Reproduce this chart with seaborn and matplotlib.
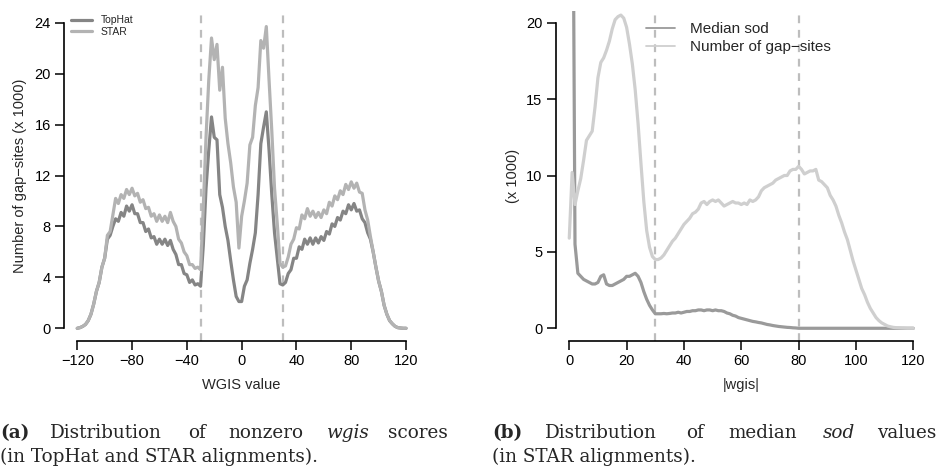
import numpy as np
import pandas as pd
import matplotlib
matplotlib.use("Agg")
import matplotlib.pyplot as plt
import seaborn as sns

# ---------------- data: panel (a) ----------------
wgis_a = list(range(-120, 121, 2))
tophat = [0.0, 0.05, 0.15, 0.3, 0.6, 1.1, 1.9, 2.9, 3.6, 4.8, 5.5, 7.0, 7.3,
          8.0, 8.6, 8.4, 9.1, 8.8, 9.6, 9.2, 9.7, 9.0, 9.0, 8.3, 8.3, 7.6, 7.8,
          7.1, 7.2, 6.6, 7.0, 6.6, 7.0, 6.5, 6.9, 6.2, 5.8, 5.0, 5.0, 4.3, 4.2,
          3.6, 3.8, 3.4, 3.5, 3.3, 6.5, 11.0, 14.0, 16.6, 15.0, 14.8, 10.5, 9.5,
          8.0, 6.9, 5.3, 3.8, 2.5, 2.1, 2.1, 3.3, 3.8, 5.1, 6.2, 7.5, 10.5, 14.5,
          15.8, 17.0, 14.0, 10.5, 7.5, 5.5, 3.5, 3.4, 3.6, 4.3, 4.6, 5.5, 5.5,
          6.4, 6.2, 7.0, 6.6, 7.1, 6.6, 7.1, 6.7, 7.2, 6.9, 7.6, 7.4, 8.2, 8.0,
          8.7, 8.5, 9.2, 9.0, 9.7, 9.3, 9.8, 9.2, 9.3, 8.6, 8.3, 7.5, 7.0, 6.0,
          4.8, 3.7, 2.9, 1.8, 1.1, 0.6, 0.35, 0.15, 0.05, 0.02, 0.0, 0.0]
star = [0.0, 0.05, 0.15, 0.3, 0.6, 1.1, 1.9, 2.9, 3.6, 4.8, 5.5, 7.3, 7.6,
        8.9, 10.2, 9.8, 10.5, 10.2, 10.9, 10.5, 11.0, 10.4, 10.6, 9.9, 10.1,
        9.4, 9.5, 8.8, 9.0, 8.4, 8.9, 8.4, 8.8, 8.3, 9.1, 8.4, 8.0, 7.0, 6.7,
        6.0, 5.7, 5.0, 5.0, 4.7, 4.8, 4.6, 9.5, 15.0, 19.5, 22.8, 21.1, 22.3,
        18.7, 20.5, 16.5, 14.5, 13.0, 11.1, 9.9, 6.3, 8.8, 10.0, 11.4, 14.4,
        15.0, 17.5, 18.9, 22.6, 22.0, 23.7, 19.5, 15.5, 11.0, 8.2, 5.1, 4.8,
        4.9, 5.6, 6.6, 7.0, 7.9, 7.8, 8.9, 8.6, 9.4, 8.8, 9.2, 8.7, 9.1, 8.7,
        9.3, 9.0, 9.9, 9.6, 10.4, 10.1, 10.8, 10.5, 11.3, 10.9, 11.5, 11.0,
        11.4, 10.7, 10.6, 9.3, 8.5, 7.2, 6.0, 4.8, 3.7, 2.9, 1.8, 1.1, 0.6,
        0.35, 0.15, 0.05, 0.02, 0.0, 0.0]

# ---------------- data: panel (b) ----------------
wgis_b = list(range(0, 121))
median_sod = [60.0, 40.0, 5.5, 3.6, 3.4, 3.2, 3.1, 3.0, 2.9, 2.9, 3.0, 3.4,
              3.5, 2.9, 2.8, 2.8, 2.9, 3.0, 3.1, 3.2, 3.4, 3.4, 3.5, 3.6, 3.4,
              3.0, 2.4, 1.9, 1.5, 1.2, 0.95, 0.95, 0.95, 0.97, 0.95, 0.97, 1.0,
              1.0, 1.05, 1.0, 1.05, 1.1, 1.1, 1.15, 1.15, 1.2, 1.2, 1.15, 1.2,
              1.2, 1.15, 1.2, 1.15, 1.15, 1.1, 1.0, 0.95, 0.85, 0.8, 0.7, 0.65,
              0.6, 0.55, 0.5, 0.45, 0.42, 0.38, 0.35, 0.3, 0.25, 0.22, 0.18,
              0.15, 0.12, 0.1, 0.08, 0.06, 0.05, 0.03, 0.02,
              0, 0, 0, 0, 0, 0, 0, 0, 0, 0, 0, 0, 0, 0, 0, 0, 0, 0, 0, 0, 0,
              0, 0, 0, 0, 0, 0, 0, 0, 0, 0, 0, 0, 0, 0, 0, 0, 0, 0, 0, 0]
gap_sites = [5.9, 10.2, 8.1, 9.0, 9.8, 11.0, 12.3, 12.6, 12.9, 14.5, 16.4,
             17.4, 17.7, 18.2, 18.8, 19.6, 20.2, 20.4, 20.5, 20.3, 19.7, 18.6,
             17.3, 15.6, 13.4, 10.8, 8.3, 6.4, 5.3, 4.7, 4.5, 4.5, 4.6, 4.8,
             5.1, 5.4, 5.7, 5.9, 6.2, 6.5, 6.8, 7.0, 7.2, 7.5, 7.6, 7.8, 8.2,
             8.3, 8.1, 8.3, 8.4, 8.3, 8.4, 8.2, 8.0, 8.1, 8.2, 8.3, 8.2, 8.2,
             8.1, 8.2, 8.1, 8.4, 8.3, 8.4, 8.6, 9.0, 9.2, 9.3, 9.4, 9.5, 9.7,
             9.8, 9.9, 10.0, 10.0, 10.3, 10.4, 10.4, 10.6, 10.4, 10.1, 10.2,
             10.3, 10.3, 10.4, 9.7, 9.6, 9.4, 9.2, 8.7, 8.4, 8.0, 7.4, 6.9,
             6.3, 5.8, 5.1, 4.4, 3.8, 3.2, 2.6, 2.2, 1.7, 1.3, 1.0, 0.7, 0.5,
             0.35, 0.25, 0.15, 0.1, 0.06, 0.04, 0.03, 0.02, 0.01, 0.0, 0.0, 0.0]

cutoffs_a = [-30, 30]
cutoffs_b = [30, 80]
xticks_a = [-120, -80, -40, 0, 40, 80, 120]
yticks_a = [0, 4, 8, 12, 16, 20, 24]
xticks_b = [0, 20, 40, 60, 80, 100, 120]
yticks_b = [0, 5, 10, 15, 20]

df_a = pd.DataFrame({"wgis": wgis_a, "TopHat": tophat, "STAR": star})
df_b = pd.DataFrame({"wgis": wgis_b, "Median sod": median_sod,
                     "Number of gap\u2212sites": gap_sites})

sns.set_theme(style="white")
plt.rcParams["font.family"] = ["Liberation Sans", "DejaVu Sans"]
plt.rcParams["axes.unicode_minus"] = True

W, H = 941, 466
fig = plt.figure(figsize=(W / 100, H / 100), dpi=100)

def px_axes(x0, x1, ytop, ybot):
    return fig.add_axes([x0 / W, (H - ybot) / H, (x1 - x0) / W, (ybot - ytop) / H])

axA = px_axes(64.1, 419.2, 10.5, 340.5)
axB = px_axes(555.5, 927.1, 10.5, 340.5)

c_top, c_star = "#858585", "#B3B3B3"
c_sod, c_gap = "#9A9A9A", "#CFCFCF"
c_dash = "#BDBDBD"
lw = 2.3

sns.lineplot(data=df_a, x="wgis", y="TopHat", ax=axA, color=c_top, lw=lw, label="TopHat")
sns.lineplot(data=df_a, x="wgis", y="STAR", ax=axA, color=c_star, lw=lw, label="STAR")
for c in cutoffs_a:
    axA.axvline(c, color=c_dash, lw=1.6, dashes=(3.5, 3.0), zorder=0)

sns.lineplot(data=df_b, x="wgis", y="Median sod", ax=axB, color=c_sod, lw=lw,
             label="Median sod")
sns.lineplot(data=df_b, x="wgis", y="Number of gap\u2212sites", ax=axB, color=c_gap,
             lw=lw, label="Number of gap\u2212sites")
for c in cutoffs_b:
    axB.axvline(c, color=c_dash, lw=1.6, dashes=(3.5, 3.0), zorder=0)

def style(ax, xt, yt, xlim, ylim):
    ax.set_xlim(*xlim)
    ax.set_ylim(*ylim)
    ax.set_xticks(xt)
    ax.set_yticks(yt)
    for s in ["top", "right"]:
        ax.spines[s].set_visible(False)
    ax.spines["left"].set_bounds(yt[0], yt[-1])
    ax.spines["bottom"].set_bounds(xt[0], xt[-1])
    for s in ["left", "bottom"]:
        ax.spines[s].set_color("black")
        ax.spines[s].set_linewidth(1.2)
    ax.tick_params(axis="both", direction="out", length=6.5, width=1.1,
                   color="black", labelsize=10.5, labelcolor="black", pad=3,
                   left=True, bottom=True)
    ax.grid(False)
    ax.set_facecolor("white")

style(axA, xticks_a, yticks_a, (-129.6, 129.6), (-0.96, 24.96))
style(axB, xticks_b, yticks_b, (-4.8, 124.8), (-0.8, 20.8))

axA.set_xlabel("WGIS value", fontsize=10.5)
axA.set_ylabel("Number of gap\u2212sites (x 1000)", fontsize=10.5)
axB.set_xlabel("|wgis|", fontsize=10.5)
axB.set_ylabel("(x 1000)", fontsize=10.5)
axA.xaxis.set_label_coords(0.5, -0.113)
axB.xaxis.set_label_coords(0.5, -0.113)
axA.yaxis.set_label_coords(-0.105, 0.5)
axB.yaxis.set_label_coords(-0.095, 0.5)

legA = axA.legend(loc="upper left", bbox_to_anchor=(0.02, 0.985), frameon=False,
                  fontsize=7.5, handlelength=2.0, handletextpad=0.85,
                  labelspacing=0.15, borderaxespad=0, borderpad=0)
for l in legA.get_lines():
    l.set_linewidth(2.3)
legB = axB.legend(loc="upper left", bbox_to_anchor=(0.243, 0.965), frameon=False,
                  fontsize=11, handlelength=1.9, handletextpad=1.0,
                  labelspacing=0.25, borderaxespad=0, borderpad=0)
for l in legB.get_lines():
    l.set_linewidth(1.3)

# ---------------- captions ----------------
serif = ["DejaVu Serif", "Liberation Serif"]
cap_fs = 13.2

def cap_words(words, xs, ybase):
    for (w, kw), x in zip(words, xs):
        fig.text(x / W, (H - ybase) / H, w, fontsize=cap_fs, family=serif,
                 ha="left", va="baseline", **kw)

cap_words([("(a)", {"weight": "bold"}), ("Distribution", {}), ("of", {}),
           ("nonzero", {}), ("wgis", {"style": "italic"}), ("scores", {})],
          [0, 50, 188, 228, 327, 388], 438)
fig.text(0, (H - 462) / H, "(in TopHat and STAR alignments).", fontsize=cap_fs,
         family=serif, ha="left", va="baseline")
cap_words([("(b)", {"weight": "bold"}), ("Distribution", {}), ("of", {}),
           ("median", {}), ("sod", {"style": "italic"}), ("values", {})],
          [492, 545, 686, 728, 823, 877], 438)
fig.text(492 / W, (H - 462) / H, "(in STAR alignments).", fontsize=cap_fs,
         family=serif, ha="left", va="baseline")

fig.savefig("out.png", dpi=100)
